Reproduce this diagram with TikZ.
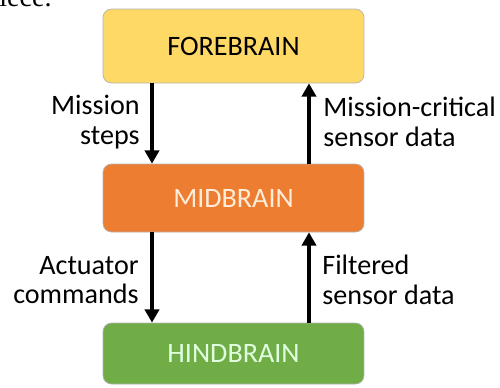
\documentclass[tikz,border=0pt]{standalone}
\usepackage{fontspec}
\setmainfont{Carlito}
\newfontfamily\serifpart{Liberation Serif}
\usetikzlibrary{arrows.meta}
\definecolor{foreyellow}{HTML}{FFD966}
\definecolor{midorange}{HTML}{ED7D31}
\definecolor{hindgreen}{HTML}{70AD47}
\tikzstyle{brainbox}=[rectangle, rounded corners=0.17cm, draw=black!30, line width=0.4pt,
    minimum width=5.22cm, font=\fontsize{16}{17}\selectfont]
\tikzstyle{flow}=[line width=1.9pt, -{Triangle[length=7.5pt, width=8pt]}]
\tikzstyle{flowlabel}=[inner sep=0pt, font=\fontsize{16}{16.8}\selectfont]

\begin{document}
\begin{tikzpicture}[x=0.02cm, y=-0.02cm]
    \useasboundingbox (0, 0) rectangle (500, 387);
% Leftover text from the page above
    \node[anchor=base west, inner sep=0pt, font=\serifpart\fontsize{16}{18}\selectfont] (piece) at (-1, 6) {iece.};
% Boxes
    \node[brainbox, fill=foreyellow, minimum height=1.48cm] (fore) at (233.5, 46) {FOREBRAIN};
    \node[brainbox, fill=midorange, text=white!85!orange, minimum height=1.36cm] (mid) at (233.5, 198) {MIDBRAIN};
    \node[brainbox, fill=hindgreen, text=white!88!green, minimum height=1.22cm] (hind) at (233.5, 353.5) {HINDBRAIN};
% Arrows
    \draw[flow] (fore.south -| 152, 0) -- (mid.north -| 152, 0);
    \draw[flow] (mid.north -| 309, 0) -- (fore.south -| 309, 0);
    \draw[flow] (mid.south -| 152, 0) -- (hind.north -| 152, 0);
    \draw[flow] (hind.north -| 309, 0) -- (mid.south -| 309, 0);
% Labels
    \node[flowlabel, anchor=east, align=right] (steps) at (140, 122) {Mission\\steps};
    \node[flowlabel, anchor=west, align=left] (critical) at (323, 122) {Mission-critical\\sensor data};
    \node[flowlabel, anchor=east, align=right] (actuator) at (139, 280) {Actuator\\commands};
    \node[flowlabel, anchor=west, align=left] (filtered) at (322, 280) {Filtered\\sensor data};
\end{tikzpicture}
\end{document}
